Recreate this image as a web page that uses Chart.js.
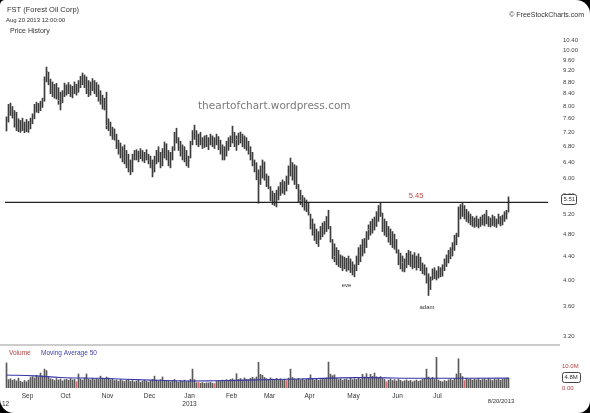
<!DOCTYPE html>
<html>
<head>
<meta charset="utf-8">
<script src="https://cdn.jsdelivr.net/npm/chart.js@4.4.1/dist/chart.umd.min.js"></script>
<style>
  html, body { margin: 0; padding: 0; background: #000; }
  #frame { position: relative; width: 590px; height: 413px; background: #fff; border-radius: 5px 14px 12px 14px; overflow: hidden; }
  canvas { position: absolute; left: 0; }
  #price { top: 0; }
  #vol { top: 345px; }
  #sep { position: absolute; left: 0; top: 344px; width: 560px; height: 2px; background: #cccccc; }
</style>
</head>
<body>
<div id="frame">
  <canvas id="price" width="590" height="345"></canvas>
  <div id="sep"></div>
  <canvas id="vol" width="590" height="68"></canvas>
</div>
<script>
// FST daily bars, Aug 17 2012 .. Aug 20 2013 (one value per trading day)
const highs = [
  7.66, 8.05, 8.09, 7.98, 7.85, 7.80, 7.60, 7.55, 7.62, 7.50,
  7.58, 7.52, 7.62, 7.75, 8.05, 8.12, 8.08, 8.15, 8.25, 8.98,
  9.34, 9.15, 8.90, 8.80, 8.72, 8.75, 8.60, 8.45, 8.50, 8.76,
  8.70, 8.78, 8.70, 8.65, 8.80, 8.72, 8.85, 9.00, 9.12, 9.05,
  8.98, 8.85, 8.80, 8.92, 8.85, 8.78, 8.70, 8.50, 8.35, 8.25,
  8.45, 7.60, 7.50, 7.35, 7.30, 7.15, 6.98, 6.90, 6.80, 6.85,
  6.70, 6.60, 6.45, 6.60, 6.70, 6.72, 6.68, 6.75, 6.70, 6.65,
  6.72, 6.60, 6.55, 6.45, 6.55, 6.70, 6.80, 6.65, 6.75, 6.93,
  6.88, 6.70, 6.65, 6.80, 7.20, 7.32, 7.05, 6.95, 6.85, 6.80,
  6.70, 6.55, 6.95, 7.25, 7.41, 7.25, 7.15, 7.20, 7.05, 7.10,
  7.12, 7.05, 7.15, 7.10, 7.05, 7.15, 7.08, 6.98, 6.85, 6.80,
  6.95, 7.05, 7.10, 7.38, 7.20, 7.10, 7.18, 7.21, 7.15, 7.10,
  7.05, 6.95, 6.80, 6.65, 6.45, 6.38, 6.20, 6.30, 6.45, 6.40,
  6.10, 6.05, 5.80, 5.70, 5.65, 5.72, 5.80, 5.90, 5.96, 5.92,
  6.05, 6.30, 6.50, 6.38, 6.33, 6.30, 5.85, 5.72, 5.60, 5.55,
  5.50, 5.45, 5.20, 5.10, 5.00, 4.90, 4.85, 4.95, 5.02, 5.05,
  5.15, 5.28, 4.95, 4.70, 4.62, 4.55, 4.50, 4.42, 4.40, 4.38,
  4.36, 4.40, 4.35, 4.30, 4.25, 4.40, 4.55, 4.60, 4.70, 4.72,
  4.85, 4.98, 5.05, 5.10, 5.14, 5.25, 5.38, 5.45, 5.22, 5.10,
  5.05, 4.95, 4.90, 4.85, 4.80, 4.70, 4.51, 4.45, 4.40, 4.35,
  4.45, 4.50, 4.48, 4.42, 4.46, 4.40, 4.44, 4.38, 4.28, 4.25,
  4.20, 4.10, 4.05, 4.18, 4.20, 4.15, 4.22, 4.20, 4.25, 4.35,
  4.42, 4.50, 4.55, 4.64, 4.78, 4.82, 5.35, 5.40, 5.43, 5.38,
  5.30, 5.25, 5.20, 5.15, 5.12, 5.16, 5.10, 5.14, 5.18, 5.20,
  5.28, 5.15, 5.12, 5.18, 5.15, 5.10, 5.20, 5.15, 5.18, 5.25,
  5.28, 5.57
];
const lows = [
  7.24, 7.50, 7.70, 7.62, 7.35, 7.25, 7.22, 7.20, 7.25, 7.19,
  7.22, 7.20, 7.30, 7.45, 7.60, 7.80, 7.78, 7.85, 7.95, 8.15,
  8.80, 8.70, 8.40, 8.30, 8.25, 8.22, 8.05, 7.87, 8.10, 8.30,
  8.35, 8.40, 8.30, 8.26, 8.40, 8.35, 8.45, 8.60, 8.70, 8.60,
  8.40, 8.30, 8.35, 8.50, 8.40, 8.30, 8.15, 8.05, 7.90, 7.87,
  7.30, 7.25, 7.10, 7.00, 6.98, 6.75, 6.60, 6.50, 6.40, 6.35,
  6.25, 6.15, 6.08, 6.15, 6.45, 6.45, 6.40, 6.48, 6.42, 6.38,
  6.45, 6.35, 6.25, 6.03, 6.15, 6.35, 6.40, 6.25, 6.30, 6.50,
  6.45, 6.30, 6.25, 6.45, 6.70, 6.90, 6.70, 6.55, 6.45, 6.40,
  6.30, 6.26, 6.50, 6.85, 7.00, 6.85, 6.80, 6.85, 6.75, 6.78,
  6.80, 6.72, 6.85, 6.80, 6.75, 6.85, 6.72, 6.60, 6.45, 6.45,
  6.55, 6.70, 6.80, 6.90, 6.80, 6.70, 6.85, 6.90, 6.80, 6.75,
  6.70, 6.60, 6.45, 6.30, 6.15, 5.96, 5.43, 5.85, 6.00, 5.95,
  5.80, 5.75, 5.48, 5.40, 5.38, 5.35, 5.50, 5.60, 5.65, 5.62,
  5.70, 5.85, 6.05, 5.95, 5.85, 5.75, 5.45, 5.40, 5.35, 5.28,
  5.25, 5.18, 4.90, 4.78, 4.68, 4.62, 4.57, 4.70, 4.75, 4.80,
  4.85, 4.90, 4.65, 4.35, 4.30, 4.25, 4.22, 4.20, 4.15, 4.18,
  4.14, 4.16, 4.12, 4.08, 4.05, 4.15, 4.25, 4.30, 4.40, 4.45,
  4.55, 4.70, 4.78, 4.82, 4.88, 4.95, 5.05, 5.15, 4.85, 4.78,
  4.75, 4.65, 4.60, 4.55, 4.52, 4.45, 4.25, 4.18, 4.14, 4.13,
  4.20, 4.25, 4.22, 4.18, 4.20, 4.16, 4.20, 4.15, 4.10, 4.08,
  3.95, 3.76, 3.85, 4.00, 4.02, 4.00, 4.03, 4.05, 4.06, 4.15,
  4.22, 4.28, 4.35, 4.40, 4.50, 4.60, 4.75, 5.10, 5.15, 5.10,
  5.05, 5.02, 4.98, 4.95, 4.93, 4.95, 4.92, 4.95, 4.98, 4.96,
  5.00, 4.95, 4.94, 4.97, 4.95, 4.93, 5.00, 4.96, 4.98, 5.05,
  5.10, 5.24
];
const closes = [
  7.55, 7.95, 7.80, 7.70, 7.45, 7.40, 7.30, 7.45, 7.30, 7.40,
  7.28, 7.45, 7.55, 7.70, 7.95, 7.90, 8.00, 8.10, 8.20, 8.90,
  9.20, 8.85, 8.55, 8.45, 8.60, 8.35, 8.20, 8.10, 8.40, 8.60,
  8.50, 8.70, 8.45, 8.55, 8.72, 8.45, 8.80, 8.95, 8.85, 8.70,
  8.55, 8.45, 8.70, 8.80, 8.55, 8.40, 8.25, 8.15, 8.00, 8.10,
  7.40, 7.35, 7.20, 7.15, 7.05, 6.85, 6.70, 6.60, 6.55, 6.45,
  6.35, 6.25, 6.20, 6.50, 6.60, 6.55, 6.62, 6.55, 6.50, 6.60,
  6.48, 6.40, 6.35, 6.15, 6.45, 6.60, 6.50, 6.35, 6.65, 6.85,
  6.55, 6.40, 6.55, 6.75, 7.10, 7.00, 6.80, 6.65, 6.55, 6.50,
  6.40, 6.45, 6.90, 7.15, 7.10, 6.95, 7.05, 6.95, 6.90, 7.00,
  6.88, 6.95, 7.05, 6.90, 6.95, 7.00, 6.80, 6.70, 6.55, 6.70,
  6.85, 6.95, 7.00, 7.05, 6.90, 7.00, 7.10, 7.15, 6.95, 6.85,
  6.80, 6.70, 6.55, 6.40, 6.25, 6.10, 5.90, 6.20, 6.35, 6.05,
  5.90, 5.80, 5.55, 5.50, 5.60, 5.65, 5.75, 5.85, 5.80, 5.88,
  5.95, 6.20, 6.40, 6.05, 6.25, 5.85, 5.55, 5.50, 5.45, 5.38,
  5.30, 5.25, 5.00, 4.85, 4.75, 4.70, 4.78, 4.90, 4.85, 5.00,
  5.05, 4.95, 4.70, 4.45, 4.40, 4.35, 4.30, 4.35, 4.25, 4.30,
  4.22, 4.28, 4.20, 4.15, 4.22, 4.35, 4.45, 4.55, 4.60, 4.65,
  4.80, 4.90, 4.95, 5.05, 5.00, 5.20, 5.30, 5.25, 4.95, 4.85,
  4.95, 4.72, 4.70, 4.65, 4.58, 4.50, 4.35, 4.25, 4.30, 4.20,
  4.40, 4.35, 4.30, 4.38, 4.28, 4.25, 4.35, 4.22, 4.15, 4.12,
  4.00, 3.90, 4.00, 4.12, 4.08, 4.10, 4.18, 4.12, 4.20, 4.30,
  4.38, 4.45, 4.50, 4.60, 4.72, 4.78, 5.30, 5.25, 5.35, 5.20,
  5.15, 5.10, 5.05, 5.00, 5.05, 5.00, 5.02, 5.08, 5.05, 5.10,
  5.05, 5.00, 5.05, 5.10, 5.02, 5.05, 5.12, 5.05, 5.12, 5.20,
  5.22, 5.51
];
// volume in millions of shares
const volumes = [
  11.4, 3.8, 4.2, 3.5, 3.9, 3.2, 4.5, 3.0, 2.6, 3.4,
  2.8, 3.6, 4.8, 5.2, 4.6, 5.8, 4.9, 6.8, 5.5, 8.6,
  7.9, 5.0, 4.2, 3.9, 3.4, 4.3, 3.6, 4.1, 3.2, 3.8,
  4.0, 3.5, 4.3, 3.7, 3.9, 2.9, 6.4, 4.1, 3.6, 4.6,
  6.4, 4.0, 3.7, 4.5, 3.8, 4.2, 3.9, 5.4, 4.5, 3.9,
  5.0, 4.6, 3.8, 4.2, 3.4, 3.6, 3.1, 3.9, 3.3, 2.9,
  3.5, 3.8, 3.0, 3.4, 2.8, 3.2, 3.7, 2.6, 3.1, 3.5,
  3.0, 2.7, 3.3, 3.9, 5.4, 3.6, 3.2, 3.8, 5.0, 3.4,
  3.0, 3.5, 2.8, 3.3, 3.9, 3.1, 2.7, 3.4, 3.0, 3.6,
  2.9, 3.2, 4.0, 8.6, 3.8, 2.4, 2.6, 2.2, 2.5, 2.1,
  2.4, 2.3, 2.6, 2.2, 2.0, 3.0, 3.4, 3.1, 3.6, 3.2,
  3.8, 3.3, 3.9, 4.2, 3.6, 6.5, 3.9, 4.3, 3.7, 4.6,
  4.0, 3.8, 4.4, 4.9, 4.2, 5.0, 11.7, 6.2, 5.8, 4.8,
  4.3, 3.9, 4.6, 4.1, 3.7, 4.4, 3.8, 4.2, 3.6, 4.0,
  3.4, 4.5, 8.6, 4.8, 4.2, 3.9, 4.4, 3.7, 4.1, 3.5,
  3.9, 4.3, 6.0, 4.2, 3.6, 4.0, 3.5, 3.8, 4.4, 3.9,
  4.6, 11.8, 6.3, 5.6, 6.0, 4.4, 3.8, 4.2, 3.5, 3.9,
  4.1, 3.6, 4.4, 3.8, 4.2, 3.9, 4.6, 4.0, 6.2, 5.0,
  6.5, 4.8, 6.2, 5.3, 6.8, 5.1, 4.7, 5.2, 4.3, 3.9,
  2.8, 3.6, 4.1, 3.4, 3.8, 3.2, 4.0, 3.5, 2.9, 3.3,
  3.7, 3.1, 3.5, 2.8, 3.2, 3.6, 3.0, 3.4, 3.9, 4.4,
  8.6, 5.0, 4.2, 4.8, 3.9, 14.0, 3.6, 3.1, 2.8, 3.4,
  3.0, 3.7, 4.1, 3.5, 4.3, 6.4, 13.3, 6.6, 5.2, 3.4,
  4.5, 3.9, 4.2, 3.6, 4.0, 3.7, 4.3, 3.5, 3.9, 4.1,
  3.6, 4.4, 3.8, 3.4, 4.0, 3.7, 4.2, 3.5, 3.9, 4.1,
  4.3, 4.6
];
const redDays = [35, 96, 104, 140, 190, 229];
// 50-day moving average of volume, read at a few days
const maDays   = [0, 14, 27, 47, 72, 90, 104, 120, 147, 175, 209, 251];
const maValues = [5.9, 5.5, 4.8, 4.4, 3.6, 3.2, 3.3, 3.6, 4.1, 4.7, 4.4, 4.5];

const monthNames  = ['Sep', 'Oct', 'Nov', 'Dec', 'Jan', 'Feb', 'Mar', 'Apr', 'May', 'Jun', 'Jul'];
const monthStarts = [11, 30, 51, 72, 92, 113, 132, 152, 174, 196, 216];
const priceTicks  = [3.2, 3.6, 4.0, 4.4, 4.8, 5.2, 5.6, 6.0, 6.4, 6.8, 7.2, 7.6, 8.0, 8.4, 8.8, 9.2, 9.6, 10.0, 10.4];
const volTicks    = [0, 10];
const RESISTANCE = 5.45;
const LAST_PRICE = 5.51;
const AVG_VOL = 4.8;

const FONT = '"Liberation Sans", Arial, sans-serif';
const BAR_COLOR = '#3c3c3c';
const TICK_COLOR = '#8a8a8a';
const X_MIN = -2.25, X_MAX = 270.75;

// keep the plot areas exactly where they are in the original
function fixWidth(s) {
  s.width = 42;
  s.paddingTop = 0;
  s.paddingBottom = 0;
}

function boxedLabel(ctx, text, x, yc, w) {
  ctx.fillStyle = '#fff';
  ctx.strokeStyle = '#444';
  ctx.lineWidth = 1;
  ctx.beginPath();
  ctx.roundRect(x + 0.5, Math.round(yc - 5.5) + 0.5, w, 10, 2);
  ctx.fill();
  ctx.stroke();
  ctx.fillStyle = '#333';
  ctx.textAlign = 'left';
  ctx.textBaseline = 'middle';
  ctx.fillText(text, x + 2.5, yc);
}

const priceDecor = {
  id: 'priceDecor',
  afterDatasetsDraw(chart) {
    const { ctx, scales: { x, y } } = chart;
    ctx.save();
    ctx.strokeStyle = TICK_COLOR;
    ctx.lineWidth = 1;
    ctx.beginPath();
    closes.forEach((c, i) => {
      const px = Math.round(x.getPixelForValue(i));
      const py = Math.round(y.getPixelForValue(c)) + 0.5;
      ctx.moveTo(px, py);
      ctx.lineTo(px + 1, py);
    });
    ctx.stroke();
    ctx.restore();
  },
  afterDraw(chart) {
    const { ctx, scales: { y } } = chart;
    ctx.save();
    ctx.textBaseline = 'alphabetic';
    ctx.fillStyle = '#333';
    ctx.font = `7.5px ${FONT}`;
    ctx.fillText('FST (Forest Oil Corp)', 7, 12);
    ctx.font = `6px ${FONT}`;
    ctx.fillText('Aug 20 2013 12:00:00', 6, 22);
    ctx.font = `7px ${FONT}`;
    ctx.fillText('Price History', 10, 33);
    ctx.textAlign = 'right';
    ctx.fillText('\u00a9 FreeStockCharts.com', 584, 17);

    ctx.textAlign = 'left';
    ctx.fillStyle = '#7a7a7a';
    ctx.font = '10.5px "DejaVu Sans", sans-serif';
    ctx.fillText('theartofchart.wordpress.com', 198, 109);

    ctx.textAlign = 'center';
    ctx.fillStyle = '#c04848';
    ctx.font = `7.5px ${FONT}`;
    ctx.fillText(RESISTANCE.toFixed(2), 416, y.getPixelForValue(RESISTANCE) - 4);

    ctx.fillStyle = '#333';
    ctx.font = `6px ${FONT}`;
    ctx.fillText('eve', 346.5, 287);
    ctx.fillText('adam', 427, 309);

    boxedLabel(ctx, LAST_PRICE.toFixed(2), 561, y.getPixelForValue(LAST_PRICE), 15);
    ctx.restore();
  }
};

const volDecor = {
  id: 'volDecor',
  afterDraw(chart) {
    const { ctx, scales: { y } } = chart;
    ctx.save();
    ctx.textBaseline = 'alphabetic';
    ctx.font = `6.5px ${FONT}`;
    ctx.fillStyle = '#b04040';
    ctx.fillText('Volume', 9, 10);
    ctx.fillStyle = '#4040a8';
    ctx.fillText('Moving Average 50', 41, 10);
    ctx.fillStyle = '#333';
    ctx.font = `6px ${FONT}`;
    ctx.textAlign = 'center';
    ctx.fillText('8/20/2013', 501, 58);
    ctx.textAlign = 'left';
    ctx.font = `6.5px ${FONT}`;
    ctx.fillText('12', 2, 61);
    ctx.font = `6px ${FONT}`;
    boxedLabel(ctx, AVG_VOL.toFixed(1) + 'M', 562, y.getPixelForValue(AVG_VOL), 18);
    ctx.restore();
  }
};

new Chart(document.getElementById('price'), {
  type: 'bar',
  data: {
    datasets: [
      {
        type: 'line',
        data: [{ x: -0.75, y: RESISTANCE }, { x: X_MAX, y: RESISTANCE }],
        borderColor: '#222',
        borderWidth: 1.3,
        pointRadius: 0,
      },
      {
        type: 'bar',
        data: highs.map((h, i) => ({ x: i, y: [lows[i], h] })),
        backgroundColor: BAR_COLOR,
        barThickness: 1,
        grouped: false,
      },
    ],
  },
  options: {
    responsive: false, animation: false, events: [],
    layout: { padding: { top: 36, bottom: 2, left: 2, right: 0 } },
    plugins: { legend: { display: false }, tooltip: { enabled: false } },
    scales: {
      x: { type: 'linear', min: X_MIN, max: X_MAX, offset: false, display: false },
      y: {
        type: 'logarithmic', position: 'right', min: 3.112, max: 10.567,
        grid: { display: false, drawTicks: false }, border: { display: false },
        afterBuildTicks: s => { s.ticks = priceTicks.map(v => ({ value: v })); },
        afterFit: fixWidth,
        ticks: {
          padding: 15, autoSkip: false, color: '#444',
          font: { family: FONT, size: 6 },
          callback: v => Number(v).toFixed(2),
        },
      },
    },
  },
  plugins: [priceDecor],
});

new Chart(document.getElementById('vol'), {
  type: 'bar',
  data: {
    datasets: [
      {
        type: 'line',
        data: maDays.map((d, k) => ({ x: d, y: maValues[k] })),
        borderColor: '#3535a8',
        borderWidth: 1.1,
        pointRadius: 0,
        tension: 0.4,
      },
      {
        type: 'bar',
        data: volumes.map((v, i) => ({ x: i, y: v })),
        backgroundColor: volumes.map((v, i) => redDays.includes(i) ? '#d46a6a' : '#5a5a5a'),
        barThickness: 1,
        grouped: false,
      },
    ],
  },
  options: {
    responsive: false, animation: false, events: [],
    layout: { padding: { top: 10, bottom: 0, left: 2, right: 0 } },
    plugins: { legend: { display: false }, tooltip: { enabled: false } },
    scales: {
      x: {
        type: 'linear', min: X_MIN, max: X_MAX, offset: false,
        grid: { display: false, drawTicks: false }, border: { display: false },
        afterBuildTicks: s => { s.ticks = monthStarts.map(v => ({ value: v - 0.5 })); },
        afterFit: s => { s.height = 25; s.paddingLeft = 0; s.paddingRight = 0; },
        ticks: {
          padding: 5, autoSkip: false, maxRotation: 0, color: '#333',
          font: { family: FONT, size: 6.5, lineHeight: 1.1 },
          callback: (v, idx) => monthNames[idx] === 'Jan' ? ['Jan', '2013'] : monthNames[idx],
        },
      },
      y: {
        min: 0, max: 15, position: 'right',
        grid: { display: false, drawTicks: false }, border: { display: false },
        afterBuildTicks: s => { s.ticks = volTicks.map(v => ({ value: v })); },
        afterFit: fixWidth,
        ticks: {
          padding: 14, autoSkip: false, color: '#b04040',
          font: { family: FONT, size: 6 },
          callback: v => v === 0 ? '0.00' : v.toFixed(1) + 'M',
        },
      },
    },
  },
  plugins: [volDecor],
});
</script>
</body>
</html>
